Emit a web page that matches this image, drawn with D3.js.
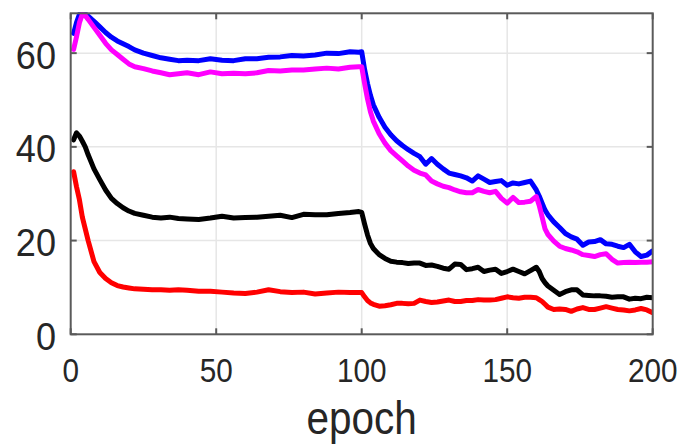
<!DOCTYPE html>
<html><head><meta charset="utf-8">
<script src="https://cdn.jsdelivr.net/npm/d3@7"></script>
<style>body{margin:0;background:#fff}svg{display:block}</style>
</head><body>
<svg id="c" width="686" height="446"></svg>
<script>
const epochs = [1,2,3,4,5,6,8,10,12,14,16,18,20,22,25,28,31,34,37,40,44,48,52,56,60,64,68,72,76,80,84,88,92,96,99,100,101,102,103,104,106,108,110,112,114,116,118,120,122,124,126,128,130,132,134,136,138,140,142,144,146,148,150,152,154,156,158,160,161,162,163,164,166,168,170,172,174,176,178,180,182,184,186,188,190,192,194,196,198,200];
const blueVals = [64.2,66.5,68.3,68.6,68.4,67.9,66.8,65.6,64.4,63.4,62.6,62.0,61.4,60.7,60.0,59.5,59.0,58.7,58.4,58.5,58.4,58.8,58.5,58.4,58.8,58.8,59.1,59.2,59.5,59.4,59.6,60.0,59.9,60.3,60.2,60.3,56.5,53.5,51.0,49.0,46.3,44.2,42.6,41.3,40.3,39.4,38.6,37.9,36.3,37.5,36.3,35.3,34.4,34.1,33.8,33.4,32.7,33.8,33.1,32.4,32.6,32.8,31.8,32.3,32.1,32.4,32.7,30.8,29.5,28.0,26.5,25.5,24.0,22.8,21.5,20.8,20.3,19.0,19.7,19.8,20.2,19.3,19.2,18.8,18.5,19.2,17.6,16.6,16.9,17.8];
const magentaVals = [60.8,63.5,66.5,68.3,68.0,67.2,65.5,63.8,62.1,60.7,59.7,58.7,57.7,57.1,56.7,56.2,55.8,55.4,55.6,55.8,55.4,56.0,55.6,55.7,55.6,55.8,56.3,56.2,56.4,56.4,56.6,56.8,56.6,57.0,57.1,57.1,53.5,50.2,47.5,45.5,42.8,40.8,39.2,38.1,37.0,35.9,35.0,34.4,34.0,32.7,32.1,31.6,31.3,30.8,30.4,30.2,30.2,30.9,30.5,30.2,30.5,29.0,28.0,29.2,28.1,28.2,28.4,29.4,27.5,25.0,22.5,21.3,19.9,18.8,18.3,18.0,17.6,17.0,16.8,16.6,17.0,17.2,16.0,15.2,15.3,15.4,15.3,15.4,15.4,15.5];
const blackVals = [41.5,43.0,42.3,41.2,40.0,38.3,35.3,33.0,30.8,29.0,27.9,27.0,26.3,25.8,25.4,25.0,24.8,25.0,24.7,24.6,24.5,24.8,25.2,24.8,24.9,25.0,25.2,25.4,24.9,25.6,25.5,25.5,25.8,26.0,26.2,26.0,23.5,21.2,19.4,18.3,17.0,16.2,15.6,15.4,15.3,15.1,15.2,15.2,14.7,14.8,14.5,14.1,13.9,15.0,14.9,13.8,14.0,14.3,13.4,13.7,13.9,13.0,13.4,13.9,13.4,12.9,13.6,14.3,13.4,11.9,11.0,10.3,9.4,8.5,9.1,9.5,9.5,8.4,8.3,8.2,8.2,8.1,7.9,8.0,8.0,7.5,7.7,7.6,7.9,7.8];
const redVals = [34.7,31.5,28.7,25.0,22.5,20.0,15.5,13.2,11.9,11.0,10.4,10.1,9.9,9.7,9.6,9.5,9.5,9.4,9.5,9.4,9.2,9.2,9.0,8.8,8.7,9.0,9.5,9.1,8.9,9.0,8.6,8.8,9.0,8.9,8.9,8.9,8.0,7.2,6.7,6.4,6.0,6.1,6.3,6.6,6.6,6.5,6.6,7.3,7.0,6.8,6.9,7.1,7.3,7.0,7.0,7.2,7.2,7.4,7.3,7.3,7.4,7.7,8.0,7.8,7.7,7.9,7.9,7.8,7.4,7.0,6.4,5.8,5.3,5.4,5.3,4.9,5.4,5.7,5.3,5.3,5.6,5.9,5.6,5.3,5.2,5.0,5.2,5.5,5.2,4.6];
const seriesNames = ["blue","magenta","black","red"];
const seriesColors = ["#0000ff","#ff00ff","#000000","#ff0000"];
const xTicks = [0,50,100,150,200];
const yTicks = [0,20,40,60];
const xLabel = "epoch";

const svg = d3.select("#c");
const L = 70.7, R = 652.7, T = 13.3, B = 334.3;
const x = d3.scaleLinear().domain([0,200]).range([L,R]);
const y = d3.scaleLinear().domain([0,68.5]).range([B,T]);

// grid
const g = svg.append("g");
g.selectAll(".gx").data(xTicks.slice(1,-1)).join("line")
  .attr("x1",d=>x(d)).attr("x2",d=>x(d)).attr("y1",T).attr("y2",B)
  .attr("stroke","#e6e6e6").attr("stroke-width",1.5);
g.selectAll(".gy").data(yTicks.slice(1)).join("line")
  .attr("x1",L).attr("x2",R).attr("y1",d=>y(d)).attr("y2",d=>y(d))
  .attr("stroke","#e6e6e6").attr("stroke-width",1.5);

svg.append("clipPath").attr("id","clip").append("rect")
  .attr("x",L).attr("y",T-1).attr("width",R-L).attr("height",B-T+1);

const line = d3.line().x((d,i)=>x(epochs[i])).y(d=>y(d));
const vals = [blueVals, magentaVals, blackVals, redVals];
const lg = svg.append("g").attr("clip-path","url(#clip)");
vals.forEach((v,k)=>{
  lg.append("path").datum(v).attr("d",line)
    .attr("fill","none").attr("stroke",seriesColors[k])
    .attr("stroke-width",5).attr("stroke-linejoin","round").attr("stroke-linecap","round");
});

// box
svg.append("rect").attr("x",L).attr("y",T).attr("width",R-L).attr("height",B-T)
  .attr("fill","none").attr("stroke","#5a5a5a").attr("stroke-width",2);

// ticks (inward, mirrored)
const tk = 6;
xTicks.forEach(d=>{
  svg.append("line").attr("x1",x(d)).attr("x2",x(d)).attr("y1",B).attr("y2",B-tk).attr("stroke","#5a5a5a").attr("stroke-width",2);
  svg.append("line").attr("x1",x(d)).attr("x2",x(d)).attr("y1",T).attr("y2",T+tk).attr("stroke","#5a5a5a").attr("stroke-width",2);
});
yTicks.forEach(d=>{
  svg.append("line").attr("x1",L).attr("x2",L+tk).attr("y1",y(d)).attr("y2",y(d)).attr("stroke","#5a5a5a").attr("stroke-width",2);
  svg.append("line").attr("x1",R).attr("x2",R-tk).attr("y1",y(d)).attr("y2",y(d)).attr("stroke","#5a5a5a").attr("stroke-width",2);
});

const font = "'Liberation Sans', Arial, Helvetica, sans-serif";
svg.selectAll(".xl").data(xTicks).join("text")
  .attr("transform",d=>`translate(${x(d)},381.7) scale(0.9,1)`)
  .attr("text-anchor","middle").attr("font-family",font).attr("font-size",33)
  .attr("fill","#262626").text(d=>d);
svg.selectAll(".yl").data(yTicks).join("text")
  .attr("transform",d=>`translate(56,${y(d)+15.5}) scale(0.95,1)`)
  .attr("text-anchor","end").attr("font-family",font).attr("font-size",38)
  .attr("fill","#262626").text(d=>d);
svg.append("text").attr("transform","translate(361.5,434) scale(0.88,1)")
  .attr("text-anchor","middle").attr("font-family",font).attr("font-size",46)
  .attr("fill","#262626").text(xLabel);
</script>
</body></html>
